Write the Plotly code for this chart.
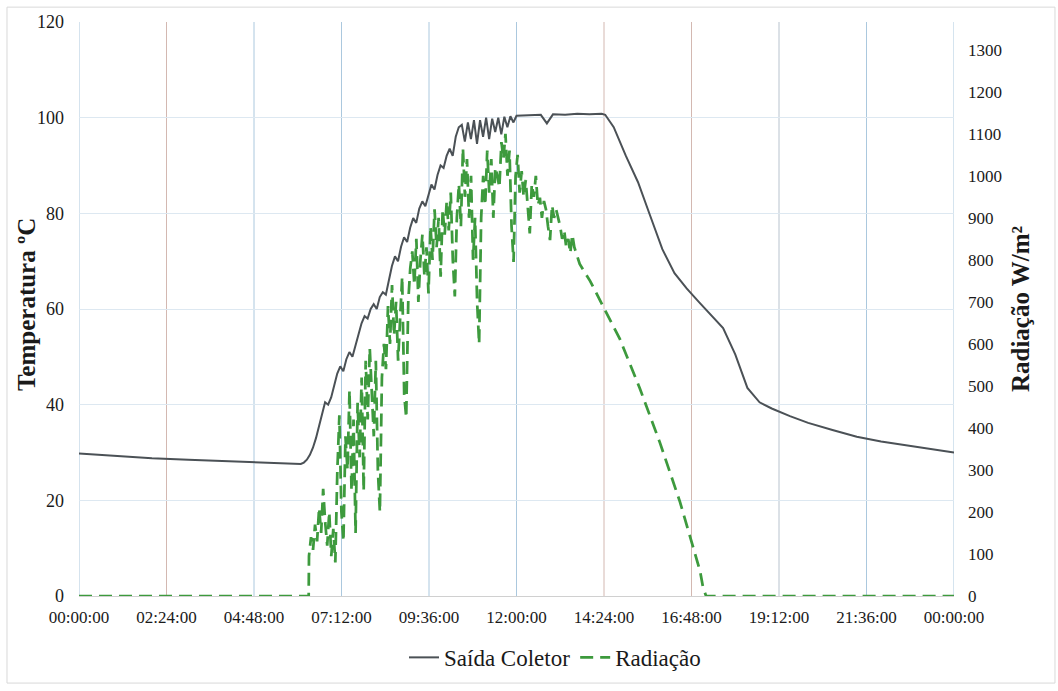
import plotly.graph_objects as go

# ---------------- data ----------------
tick_minutes = [0, 144, 288, 432, 576, 720, 864, 1008, 1152, 1296, 1440]
tick_labels = ["00:00:00", "02:24:00", "04:48:00", "07:12:00", "09:36:00", "12:00:00",
               "14:24:00", "16:48:00", "19:12:00", "21:36:00", "00:00:00"]

# Saída Coletor (temperature, degC) - time in minutes of day
temp_minutes = [0, 60, 120, 180, 240, 300, 340, 360, 365, 370,
                375, 380, 385, 390, 395, 400, 405, 410, 415, 420,
                425, 430, 435, 440, 445, 450, 455, 460, 465, 470,
                475, 480, 485, 490, 495, 500, 505, 510, 515, 520,
                525, 530, 535, 540, 545, 550, 555, 560, 565, 570,
                575, 580, 585, 590, 595, 600, 605, 610, 615, 620,
                625, 630, 635, 640, 645, 650, 655, 660, 665, 670,
                675, 680, 685, 690, 695, 700, 705, 710, 715, 720,
                740, 760, 770, 780, 800, 820, 840, 860, 866,
                880, 900, 920, 940, 960, 980, 1000, 1020, 1040, 1060,
                1080, 1100, 1120, 1140, 1170, 1200, 1240, 1280, 1320, 1360,
                1400, 1440]
temp_values = [29.8, 29.3, 28.8, 28.5, 28.2, 27.9, 27.7, 27.6, 27.6, 27.9,
               28.5, 29.5, 31.0, 33.0, 35.5, 38.0, 40.5, 40.0, 41.5, 44.0,
               46.5, 48.0, 47.0, 49.5, 51.0, 50.0, 52.5, 55.0, 57.0, 58.5,
               58.0, 60.0, 61.0, 60.0, 62.5, 63.5, 63.0, 66.0, 69.0, 71.0,
               70.0, 73.0, 75.0, 74.0, 77.0, 79.0, 78.0, 81.0, 82.5, 81.5,
               84.0, 86.0, 85.0, 88.0, 90.0, 89.5, 92.0, 93.5, 92.0, 96.0,
               98.0, 98.5, 95.0, 99.0, 95.5, 99.5, 94.5, 99.5, 96.0, 100.0,
               95.5, 99.8, 97.0, 100.0, 96.5, 100.2, 98.0, 100.3, 99.0, 100.4,
               100.5, 100.6, 98.8, 100.7, 100.6, 100.8, 100.7, 100.8, 100.6,
               98.0, 92.0, 86.5, 79.5, 72.5, 67.5, 64.3, 61.5, 58.8, 56.0,
               50.5, 43.5, 40.5, 39.2, 37.6, 36.2, 34.7, 33.3, 32.3, 31.5,
               30.8, 30.0]

# Radiação (W/m2)
rad_night_minutes = [0, 378]
rad_night_values = [0, 0]
# logger records every 200 s during the noisy morning period, starting 06:18:30
rad_log_start_min = 378.5
rad_log_step_s = 200
rad_log_values = [95, 140, 110, 170, 130, 210, 150, 255, 175, 120,
                  200, 95, 160, 80, 300, 430, 200, 130, 380, 300,
                  490, 250, 420, 150, 460, 330, 520, 250, 560, 420,
                  590, 480, 380, 560, 300, 200, 520, 600, 540, 690,
                  600, 740, 620, 700, 560, 660, 760, 480, 424, 700,
                  780, 820, 740, 850, 700, 800, 860, 760, 830, 720,
                  880, 800, 920, 830, 900, 760, 920, 860, 940, 870,
                  960, 800, 713, 900, 980, 880, 1066, 950, 1040, 900,
                  1000, 800, 900, 700, 600, 900, 1000, 930, 1060, 960,
                  1040, 900, 1020, 1000, 972, 1080, 1040, 1100, 1000, 1060,
                  880, 795, 1000, 1050, 960, 1011, 950, 990, 920, 863,
                  980, 950, 1000, 930, 948, 900, 940, 920, 880, 847,
                  930, 900, 920, 900, 880, 850, 870, 830, 850, 816,
                  860, 830, 816]
rad_eve_minutes = [824, 841, 857, 890, 923, 956, 989, 1006, 1014, 1022, 1027, 1032, 1440]
rad_eve_values = [790, 750, 706, 612, 494, 365, 224, 140, 100, 60, 20, 0, 0]

# ---------------- build ----------------
rad_log_minutes = [rad_log_start_min + i * rad_log_step_s / 60.0 for i in range(len(rad_log_values))]
rad_minutes = rad_night_minutes + rad_log_minutes + rad_eve_minutes
rad_values = rad_night_values + rad_log_values + rad_eve_values

FONT = "Liberation Serif"
BLUE = "#abc8de"
BROWN = "#d3b8b1"
GREYBLUE = "#b8c3ce"
vgrid_colors = [BLUE, BROWN, BLUE, BLUE, BLUE, BLUE, BROWN, BROWN, GREYBLUE, BLUE, BLUE]

fig = go.Figure()
fig.add_trace(go.Scatter(
    x=temp_minutes, y=temp_values, name="Saída Coletor", mode="lines",
    line=dict(color="#4b5156", width=2), yaxis="y"))
fig.add_trace(go.Scatter(
    x=rad_minutes, y=rad_values, name="Radiação", mode="lines",
    line=dict(color="#3d9a3d", width=2.75, dash="13px,7px"), yaxis="y2"))

shapes = [dict(type="rect", xref="paper", yref="paper",
               x0=-0.0823, x1=1.1154, y0=-0.1517, y1=1.0259,
               line=dict(color="#d9d9d9", width=1), fillcolor="rgba(0,0,0,0)", layer="below")]
for t, c in zip(tick_minutes, vgrid_colors):
    shapes.append(dict(type="line", xref="x", yref="paper", x0=t, x1=t, y0=0, y1=1,
                       line=dict(color=c, width=1), layer="below"))

fig.update_layout(
    width=1058, height=691,
    margin=dict(l=79, r=104, t=20, b=91),
    paper_bgcolor="white", plot_bgcolor="white",
    font=dict(family=FONT, color="#1a1a1a", size=17),
    showlegend=True,
    legend=dict(orientation="h", x=0.544, xanchor="center", y=-0.107, yanchor="middle",
                font=dict(size=23, family=FONT), itemwidth=30, bgcolor="rgba(0,0,0,0)"),
    xaxis=dict(range=[0, 1440], tickmode="array", tickvals=tick_minutes, ticktext=tick_labels,
               showgrid=False,
               showline=True, linecolor="#d0d0d0", zeroline=False,
               ticks="", tickfont=dict(size=17, family=FONT), ticklabelstandoff=6),
    yaxis=dict(range=[0, 120], tickvals=[0, 20, 40, 60, 80, 100, 120],
               showgrid=True, gridcolor="#dde8f1", gridwidth=1, zeroline=False,
               showline=False, ticks="", tickfont=dict(size=18, family=FONT),
               ticklabelstandoff=14),
    yaxis2=dict(range=[0, 1366], tickvals=list(range(0, 1301, 100)), overlaying="y", side="right",
                showgrid=False, zeroline=False, showline=False, ticks="",
                tickfont=dict(size=17, family=FONT), ticklabelstandoff=13,
                title=dict(text="<b>Radiação W/m²</b>", font=dict(size=25, family=FONT), standoff=10)),
    shapes=shapes,
    annotations=[dict(text="<b>Temperatura ºC</b>", xref="paper", yref="paper",
                      x=-0.0594, y=0.507, xanchor="center", yanchor="middle",
                      textangle=-90, showarrow=False, font=dict(size=25, family=FONT, color="#1a1a1a"))],
)

fig.write_html("out.html")
